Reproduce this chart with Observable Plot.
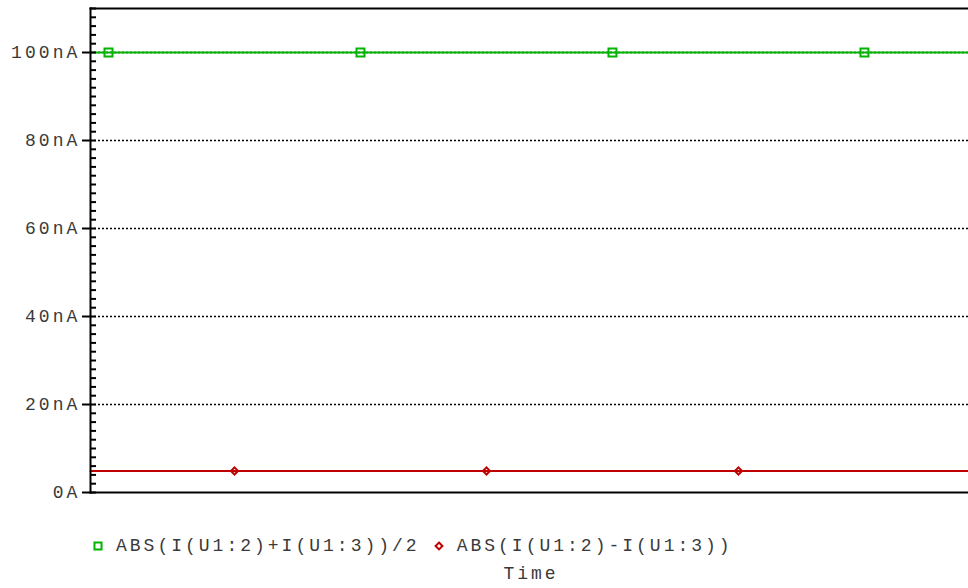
<!DOCTYPE html>
<html>
<head>
<meta charset="utf-8">
<script src="https://cdn.jsdelivr.net/npm/d3@7"></script>
<script src="https://cdn.jsdelivr.net/npm/@observablehq/plot@0.6"></script>
<style>
  html, body { margin: 0; padding: 0; background: #fff; overflow: hidden; }
  #wrap { width: 968px; height: 588px; overflow: hidden; position: relative; }
  .mono { font-family: "Liberation Mono", "Courier New", monospace; font-size: 18px; letter-spacing: 3.0px; color: #3a3a3a; }
  #chart svg text { letter-spacing: 3.1px; }
  #legend { position: absolute; left: 93px; top: 536px; white-space: nowrap; display: flex; align-items: center; }
  #legend .item { display: flex; align-items: center; margin-right: 14px; }
  #legend svg { margin-right: 13px; }
  #xlabel { position: absolute; left: 0; width: 1062px; text-align: center; top: 564px; }
</style>
</head>
<body>
<div id="wrap">
  <div id="chart"></div>
  <div id="legend" class="mono"></div>
  <div id="xlabel" class="mono">Time</div>
</div>
<script>
// ---- data ----
const seriesNames = ["ABS(I(U1:2)+I(U1:3))/2", "ABS(I(U1:2)-I(U1:3))"];
const seriesColors = ["#00b400", "#c00000"];
const timeDomain = [0, 10];            // time (axis unlabeled)
const sumTimes = [0, 10];
const sumValues = [100, 100];          // nA
const diffTimes = [0, 10];
const diffValues = [4.9, 4.9];         // nA
const sumMarkerTimes = [0.205, 3.075, 5.945, 8.815];
const sumMarkerValues = [100, 100, 100, 100];
const diffMarkerTimes = [1.64, 4.51, 7.38];
const diffMarkerValues = [4.9, 4.9, 4.9];
const yDomain = [0, 110];
const yMajorTicks = [0, 20, 40, 60, 80, 100];
const yMinorTicks = d3.range(0, 111, 2);
const yGridTicks = [20, 40, 60, 80, 100];

const sumLine = sumTimes.map((t, i) => ({t, v: sumValues[i]}));
const diffLine = diffTimes.map((t, i) => ({t, v: diffValues[i]}));
const sumMarks = sumMarkerTimes.map((t, i) => ({t, v: sumMarkerValues[i]}));
const diffMarks = diffMarkerTimes.map((t, i) => ({t, v: diffMarkerValues[i]}));

const fmt = d => d === 0 ? "0A" : d + "nA";

const chart = Plot.plot({
  width: 968,
  height: 500,
  marginTop: 8,
  marginBottom: 8,
  marginLeft: 90,
  marginRight: 0,
  style: {fontFamily: "'Liberation Mono', 'Courier New', monospace", fontSize: "18px", background: "#fff", overflow: "visible"},
  x: {domain: timeDomain, axis: null},
  y: {domain: yDomain, axis: null},
  marks: [
    Plot.gridY(yGridTicks, {stroke: "#000", strokeOpacity: 1, strokeWidth: 1.6, strokeDasharray: "2,2"}),
    Plot.line(sumLine, {x: "t", y: "v", stroke: seriesColors[0], strokeWidth: 2}),
    Plot.line(diffLine, {x: "t", y: "v", stroke: seriesColors[1], strokeWidth: 2}),
    Plot.dot(sumMarks, {x: "t", y: "v", symbol: "square", r: 4.5, stroke: seriesColors[0], strokeWidth: 2, fill: "none"}),
    Plot.dot(diffMarks, {x: "t", y: "v", symbol: "diamond2", r: 3.2, stroke: seriesColors[1], strokeWidth: 2, fill: "none"}),
    Plot.frame({anchor: "top", stroke: "#000", strokeWidth: 2, strokeOpacity: 1}),
    Plot.frame({anchor: "bottom", stroke: "#000", strokeWidth: 2, strokeOpacity: 1}),
    Plot.frame({anchor: "left", stroke: "#000", strokeWidth: 2, strokeOpacity: 1}),
    Plot.axisY(yMinorTicks, {anchor: "left", label: null, tickSize: -6, text: null, stroke: "#000", strokeWidth: 2}),
    Plot.axisY(yMajorTicks, {anchor: "left", label: null, tickSize: 8, tickPadding: 2, tickFormat: fmt, stroke: "#000", strokeWidth: 2, fill: "#3a3a3a"})
  ]
});
document.getElementById("chart").appendChild(chart);

// ---- legend ----
const legend = document.getElementById("legend");
seriesNames.forEach((name, i) => {
  const item = document.createElement("span");
  item.className = "item";
  const sym = d3.create("svg").attr("width", 10).attr("height", 10);
  const s = d3.symbol(i === 0 ? d3.symbolSquare : d3.symbolDiamond2, i === 0 ? 50 : 30)();
  sym.append("path").attr("d", s).attr("transform", "translate(5,5)")
    .attr("fill", "none").attr("stroke", seriesColors[i]).attr("stroke-width", 2);
  item.appendChild(sym.node());
  const txt = document.createElement("span");
  txt.textContent = name;
  item.appendChild(txt);
  legend.appendChild(item);
});
</script>
</body>
</html>
